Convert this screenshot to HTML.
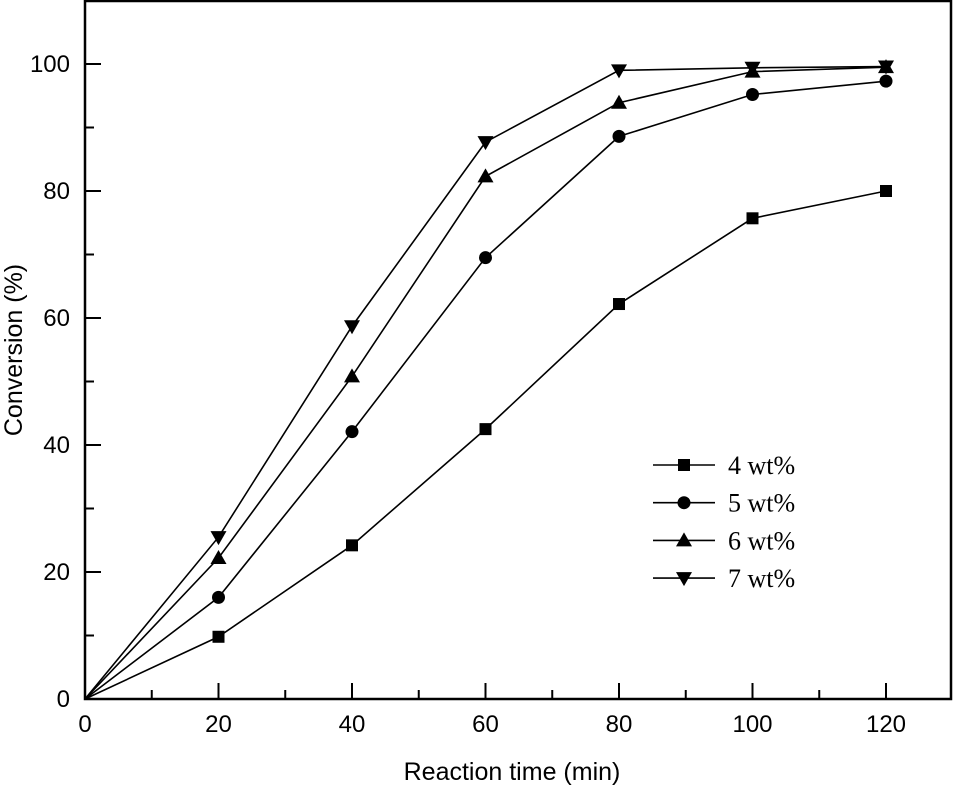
<!DOCTYPE html>
<html><head><meta charset="utf-8"><style>body{margin:0;background:#fff}svg{display:block}</style></head>
<body>
<svg id="chart" width="954" height="789" xmlns="http://www.w3.org/2000/svg" font-family="Liberation Sans, sans-serif">
<g id="axes"></g>
<g id="series"></g>
<g id="legend"></g>
<text x="512" y="780" font-size="25" text-anchor="middle">Reaction time (min)</text>
<text transform="translate(22,350) rotate(-90)" font-size="25" text-anchor="middle">Conversion (%)</text>
</svg>
<script>
const times=[0,20,40,60,80,100,120];
const s4=[0,9.8,24.2,42.5,62.2,75.7,80];
const s5=[0,16,42.1,69.5,88.6,95.2,97.3];
const s6=[0,22.2,50.8,82.3,93.9,98.8,99.5];
const s7=[0,25.5,58.7,87.7,99,99.4,99.6];
const seriesNames=["4 wt%","5 wt%","6 wt%","7 wt%"];
const xTicks=[0,20,40,60,80,100,120];
const yTicks=[0,20,40,60,80,100];
const NS="http://www.w3.org/2000/svg";
const X=v=>85+v*(886-85)/120;
const Y=v=>699-v*(699-64)/100;
function mk(t,a,p){const e=document.createElementNS(NS,t);for(const k in a)e.setAttribute(k,a[k]);p.appendChild(e);return e;}
const ax=document.getElementById('axes');
const fr=mk('rect',{x:85,y:1,width:866,height:698,fill:'none',stroke:'#000','stroke-width':2.5},ax);


for(let v=0;v<=130;v+=10){const x=X(v);if(x>950)break;const major=v%20===0;
const t=mk('line',{x1:x,x2:x,y1:699,y2:major?683:690,stroke:'#000','stroke-width':2},ax);

}
for(let v=0;v<=110;v+=10){const y=Y(v);if(y<2)break;const major=v%20===0;
const t=mk('line',{x1:85,x2:major?101:94,y1:y,y2:y,stroke:'#000','stroke-width':2},ax);

}
xTicks.forEach(v=>{const t=mk('text',{x:X(v),y:732,'font-size':24,'text-anchor':'middle'},ax);t.textContent=v;

});
yTicks.forEach(v=>{const t=mk('text',{x:70,y:Y(v)+8,'font-size':24,'text-anchor':'end'},ax);t.textContent=v;

});
function marker(kind,x,y,p){let e;
if(kind==0)e=mk('rect',{x:x-6,y:y-6,width:12,height:12},p);
else if(kind==1)e=mk('circle',{cx:x,cy:y,r:6.5},p);
else if(kind==2)e=mk('polygon',{points:`${x},${y-8} ${x-8},${y+6} ${x+8},${y+6}`},p);
else e=mk('polygon',{points:`${x},${y+8} ${x-8},${y-6} ${x+8},${y-6}`},p);
e.setAttribute('fill','#000');return e;}
const sg=document.getElementById('series');
[s4,s5,s6,s7].forEach((d,i)=>{
const pl=mk('polyline',{points:d.map((v,j)=>X(times[j])+','+Y(v)).join(' '),fill:'none',stroke:'#000','stroke-width':1.6},sg);


d.forEach((v,j)=>{if(j===0)return;const m=marker(i,X(times[j]),Y(v),sg);

});});
const lg=document.getElementById('legend');
seriesNames.forEach((n,i)=>{const y=465+i*37.7;
const l=mk('line',{x1:653,x2:715,y1:y,y2:y,stroke:'#000','stroke-width':1.6},lg);


const m=marker(i,684,y,lg);


const t=mk('text',{x:728,y:y+9,'font-size':26,'font-family':'Liberation Serif, serif'},lg);t.textContent=n;

});
</script>
</body></html>
